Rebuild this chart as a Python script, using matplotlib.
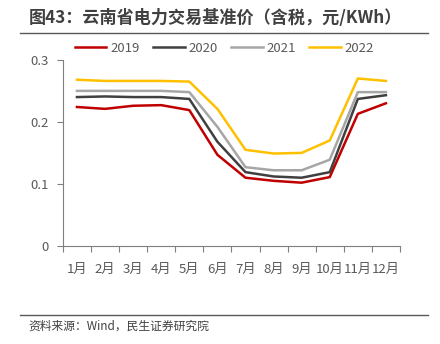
import numpy as np
import matplotlib
matplotlib.use("Agg")
import matplotlib.pyplot as plt
from matplotlib.lines import Line2D

plt.rcParams['font.family'] = ['Noto Sans CJK SC', 'DejaVu Sans']

# donnees
months = ["1月", "2月", "3月", "4月", "5月", "6月", "7月", "8月", "9月", "10月", "11月", "12月"]
y2019 = [0.224, 0.221, 0.226, 0.227, 0.219, 0.147, 0.110, 0.105, 0.102, 0.111, 0.213, 0.230]
y2020 = [0.240, 0.241, 0.240, 0.240, 0.237, 0.168, 0.119, 0.112, 0.110, 0.119, 0.237, 0.243]
y2021 = [0.250, 0.250, 0.250, 0.250, 0.248, 0.192, 0.127, 0.122, 0.122, 0.139, 0.248, 0.248]
y2022 = [0.268, 0.266, 0.266, 0.266, 0.265, 0.221, 0.155, 0.149, 0.150, 0.170, 0.270, 0.266]
series = [("2019", y2019, "#C00000"), ("2020", y2020, "#404040"),
          ("2021", y2021, "#A6A6A6"), ("2022", y2022, "#FFC000")]

fig = plt.figure(figsize=(4.4, 3.44), dpi=100)
ax = fig.add_axes([0.143, 0.285, 0.766, 0.541])

x = np.arange(len(months))
for name, vals, col in series:
    ax.plot(x, vals, color=col, lw=1.8, label=name)

ax.set_xlim(-0.5, len(months) - 0.5)
ax.set_ylim(0, 0.3)
ax.set_yticks([0, 0.1, 0.2, 0.3])
ax.set_yticklabels(["0", "0.1", "0.2", "0.3"])
ax.set_xticks(np.arange(-0.5, len(months), 1))
ax.set_xticklabels([])
ax.set_xticks(x, minor=True)
ax.set_xticklabels(months, minor=True)
ax.tick_params(axis='x', which='major', length=4, color="#7f7f7f", direction='out')
ax.tick_params(axis='x', which='minor', length=0, pad=12, labelsize=9.5, labelcolor="#595959")
ax.tick_params(axis='y', length=4, color="#7f7f7f", labelsize=9.5, labelcolor="#595959", pad=6)
for s in ["top", "right"]:
    ax.spines[s].set_visible(False)
for s in ["left", "bottom"]:
    ax.spines[s].set_color("#7f7f7f")

handles = [Line2D([], [], color=c, lw=1.8) for _, _, c in series]
fig.legend(handles, [n for n, _, _ in series], loc="center", bbox_to_anchor=(0.51, 0.86),
           ncol=4, frameon=False, fontsize=9.5, handlelength=2.4, columnspacing=1.0,
           handletextpad=0.3, labelcolor="#595959")

fig.text(0.065, 0.948, "图43：云南省电力交易基准价（含税，元/KWh）", fontsize=12.3,
         fontweight="bold", color="#404040", va="center")
fig.add_artist(Line2D([0.045, 0.973], [0.904, 0.904], color="#595959", lw=1))
fig.add_artist(Line2D([0.045, 0.973], [0.085, 0.085], color="#595959", lw=1))
fig.text(0.064, 0.052, "资料来源：Wind，民生证券研究院", fontsize=8.5, color="#404040", va="center")

fig.savefig("out.png", dpi=100)
